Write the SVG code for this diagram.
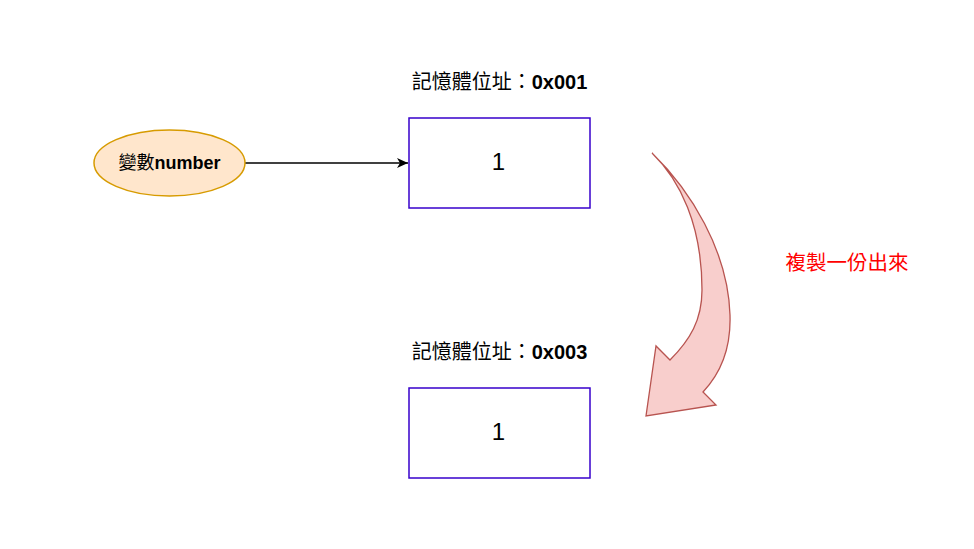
<svg xmlns="http://www.w3.org/2000/svg" width="974" height="549" viewBox="0 0 974 549">
<style>
.t{font-family:"Liberation Sans","Noto Sans CJK TC",sans-serif;fill:#000}
.cjk{font-family:"Noto Sans CJK TC","Liberation Sans",sans-serif;font-weight:normal}
.b{font-weight:bold}
.box{fill:#fff;stroke:#3700CC;stroke-width:1.5}
</style>
<defs>
<marker id="ah" markerWidth="12" markerHeight="12" refX="11" refY="6" orient="auto" markerUnits="userSpaceOnUse">
<path d="M0,1 L11,6 L0,11 L3,6 Z" fill="#000"/>
</marker>
</defs>
<rect width="974" height="549" fill="#fff"/>
<g id="connectors">
<line x1="245" y1="163" x2="408" y2="163" stroke="#000" stroke-width="1.3" marker-end="url(#ah)"/>
</g>
<g id="var">
<ellipse cx="169.5" cy="163" rx="75.5" ry="33" fill="#ffe6cc" stroke="#d79b00" stroke-width="1.5"/>
<text class="t" x="169.5" y="168.5" text-anchor="middle" font-size="18"><tspan class="cjk">變數</tspan><tspan class="b">number</tspan></text>
</g>
<g id="label1">
<text class="t" x="499.5" y="89" text-anchor="middle" font-size="20"><tspan class="cjk">記憶體位址：</tspan><tspan class="b">0x001</tspan></text>
</g>
<g id="box1">
<rect class="box" x="409" y="118" width="181" height="90"/>
<text class="t" x="498.5" y="170" text-anchor="middle" font-size="24">1</text>
</g>
<g id="label2">
<text class="t" x="499.5" y="359" text-anchor="middle" font-size="20"><tspan class="cjk">記憶體位址：</tspan><tspan class="b">0x003</tspan></text>
</g>
<g id="box2">
<rect class="box" x="409" y="388" width="181" height="90"/>
<text class="t" x="498.5" y="440" text-anchor="middle" font-size="24">1</text>
</g>
<g id="curvedArrow">
<path d="M652,153 C680,180 702,225 702,290 C702,320 690,340 670,360 L656,346 L646,416 L716,405 L703,392 C722,372 731,345 730,315 C728,250 690,190 652,153 Z" fill="#f8cecc" stroke="#b85450" stroke-width="1.3" stroke-linejoin="miter"/>
</g>
<g id="copyLabel">
<text x="847" y="270" text-anchor="middle" font-size="20.5" fill="#FF0000" font-family="'Noto Sans CJK TC','Liberation Sans',sans-serif">複製一份出來</text>
</g>
</svg>
